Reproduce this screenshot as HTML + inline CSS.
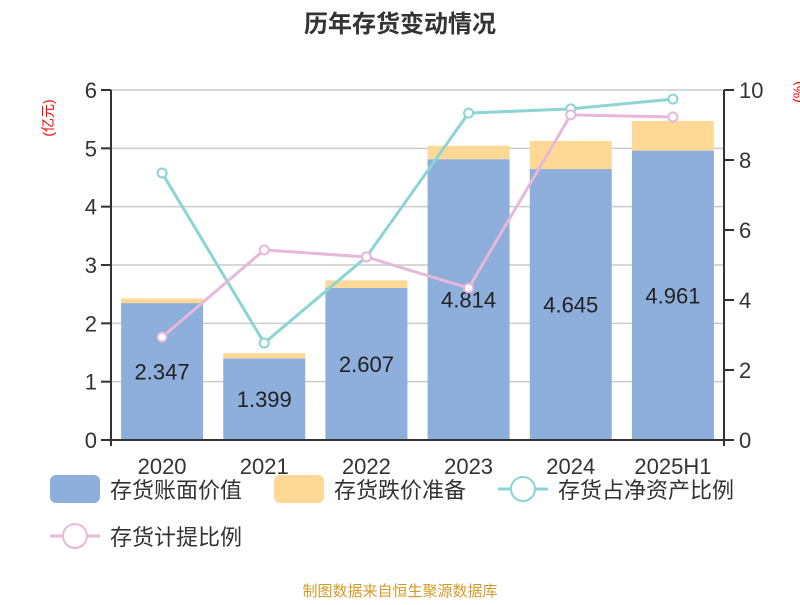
<!DOCTYPE html>
<html><head><meta charset="utf-8"><style>
body{margin:0;background:#fff;}
svg text{font-family:"Liberation Sans","Noto Sans CJK SC",sans-serif;}
</style></head><body>
<svg id="chart" width="800" height="600" xmlns="http://www.w3.org/2000/svg">
<text x="400" y="32" text-anchor="middle" font-size="24" font-weight="bold" fill="#333">历年存货变动情况</text>
<text transform="translate(53,118) rotate(-90)" text-anchor="middle" font-size="14" fill="#f00">(亿元)</text>
<text transform="translate(803,92) rotate(-90)" text-anchor="middle" font-size="14" fill="#f00">(%)</text>
<g id="grid"></g><g id="bars"></g><g id="axes"></g><g id="lines"></g>
<g>
<rect x="50" y="475" width="50" height="28" rx="6" fill="#8eaedb"/>
<text x="110" y="498" font-size="22" fill="#333">存货账面价值</text>
<rect x="274" y="475" width="50" height="28" rx="6" fill="#fed996"/>
<text x="334" y="498" font-size="22" fill="#333">存货跌价准备</text>
<line x1="498" y1="489" x2="548" y2="489" stroke="#8dd4d4" stroke-width="3"/>
<circle cx="523" cy="489" r="12" fill="#fff" stroke="#8dd4d4" stroke-width="2"/>
<text x="558" y="498" font-size="22" fill="#333">存货占净资产比例</text>
<line x1="50" y1="536" x2="100" y2="536" stroke="#e6b8da" stroke-width="3"/>
<circle cx="75" cy="536" r="12" fill="#fff" stroke="#e6b8da" stroke-width="2"/>
<text x="110" y="545" font-size="22" fill="#333">存货计提比例</text>
</g>
<text x="400" y="596" text-anchor="middle" font-size="15" fill="#d49b2a">制图数据来自恒生聚源数据库</text>
</svg>
<script>
const categories=["2020","2021","2022","2023","2024","2025H1"];
const bookValues=[2.347,1.399,2.607,4.814,4.645,4.961];
const reserves=[0.08,0.09,0.13,0.23,0.48,0.51];
const netAssetRatio=[7.63,2.77,5.23,9.34,9.46,9.74];
const provisionRatio=[2.94,5.43,5.23,4.34,9.29,9.23];
const leftTicks=[0,1,2,3,4,5,6];
const rightTicks=[0,2,4,6,8,10];
const NS="http://www.w3.org/2000/svg";
const X0=111,X1=724,Y0=440,Y1=90;
const band=(X1-X0)/categories.length;
const xC=i=>X0+band*(i+0.5);
const yL=v=>Y0-(v/6)*(Y0-Y1);
const yR=v=>Y0-(v/10)*(Y0-Y1);
function mk(tag,attrs,parent){const e=document.createElementNS(NS,tag);for(const k in attrs)e.setAttribute(k,attrs[k]);document.getElementById(parent).appendChild(e);return e;}
leftTicks.forEach(t=>{
 if(t>0){const g=mk('line',{x1:X0,x2:X1,y1:yL(t),y2:yL(t),stroke:'#ccc','stroke-width':1.5},'grid');
 
 }
 mk('line',{x1:X0-10,x2:X0,y1:yL(t),y2:yL(t),stroke:'#333','stroke-width':2},'axes');
 const tx=mk('text',{x:X0-14,y:yL(t)+8,'text-anchor':'end','font-size':22,fill:'#333'},'axes');
 tx.textContent=t;
 
 
});
rightTicks.forEach(t=>{
 mk('line',{x1:X1,x2:X1+10,y1:yR(t),y2:yR(t),stroke:'#333','stroke-width':2},'axes');
 const tx=mk('text',{x:X1+15,y:yR(t)+8,'font-size':22,fill:'#333'},'axes');
 tx.textContent=t;
 
 
});
mk('line',{x1:X0,x2:X0,y1:Y1,y2:Y0+6,stroke:'#333','stroke-width':2},'axes');
mk('line',{x1:X1,x2:X1,y1:Y1,y2:Y0+6,stroke:'#333','stroke-width':2},'axes');
mk('line',{x1:X0-10,x2:X1+10,y1:Y0,y2:Y0,stroke:'#333','stroke-width':2},'axes');
const bw=82;
categories.forEach((c,i)=>{
 const b=mk('rect',{x:xC(i)-bw/2,y:yL(bookValues[i]),width:bw,height:Y0-yL(bookValues[i]),fill:'#8eaedb'},'bars');
 
 
 const r=mk('rect',{x:xC(i)-bw/2,y:yL(bookValues[i]+reserves[i]),width:bw,height:yL(bookValues[i])-yL(bookValues[i]+reserves[i]),fill:'#fed996'},'bars');
 
 
 const l=mk('text',{x:xC(i),y:(yL(bookValues[i])+Y0)/2+8,'text-anchor':'middle','font-size':22,fill:'#222'},'bars');
 l.textContent=bookValues[i].toFixed(3);
 
 
 const xl=mk('text',{x:xC(i),y:Y0+34,'text-anchor':'middle','font-size':22,fill:'#333'},'axes');
 xl.textContent=c;
 
 
});
function series(vals,color,name){
 const pl=mk('polyline',{points:vals.map((v,i)=>xC(i)+','+yR(v)).join(' '),fill:'none',stroke:color,'stroke-width':3},'lines');
 
 
 vals.forEach((v,i)=>{
  const p=mk('circle',{cx:xC(i),cy:yR(v),r:4.5,fill:'#fff',stroke:color,'stroke-width':2},'lines');
  
  
 });
}
series(netAssetRatio,'#8dd4d4','net-asset-ratio');
series(provisionRatio,'#e6b8da','provision-ratio');
</script>
</body></html>
